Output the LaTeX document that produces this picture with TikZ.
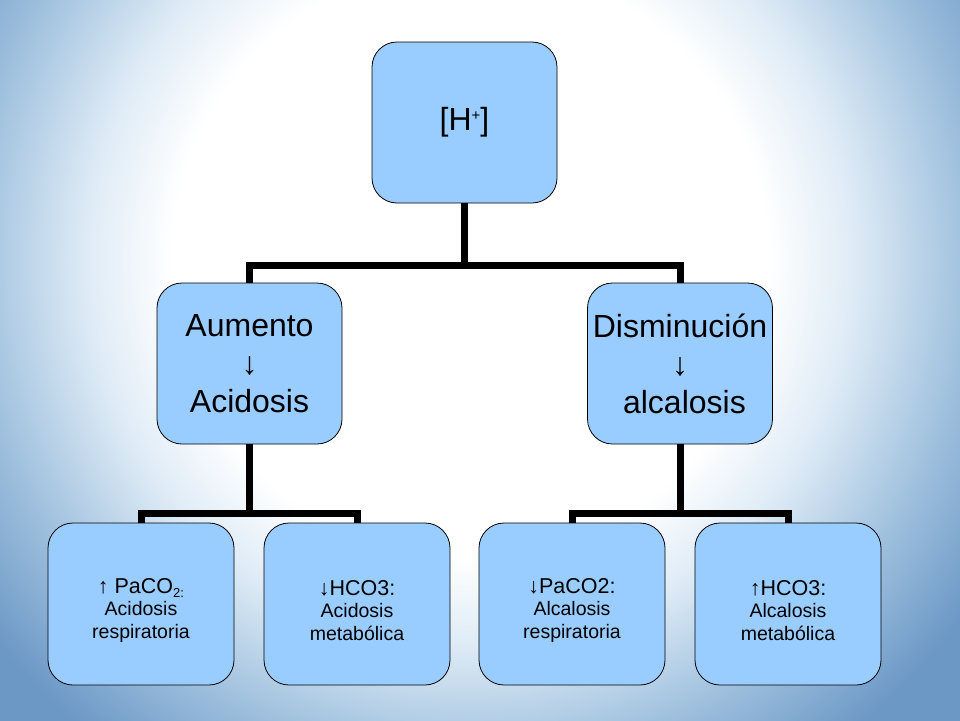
\documentclass[tikz,border=0pt]{standalone}
\usepackage{fontspec}
\setmainfont{Liberation Sans}
\definecolor{nodefill}{RGB}{153,204,255}
\definecolor{bgA}{RGB}{222,235,246}
\definecolor{bgB}{RGB}{160,193,222}
\definecolor{bgC}{RGB}{108,152,198}
\pgfdeclareradialshading{glow}{\pgfpoint{0bp}{0bp}}{color(0bp)=(white); color(12bp)=(white); color(15.5bp)=(bgA); color(20bp)=(bgB); color(24.5bp)=(bgC); color(50bp)=(bgC)}
\tikzset{
  box/.style={draw=black, line width=0.8pt, fill=nodefill, rounded corners=25pt,
    minimum width=185pt, minimum height=161pt, inner sep=0pt, align=center, text=black},
  bigtxt/.style={font=\fontsize{32}{38}\selectfont},
  smalltxt/.style={font=\fontsize{19.5}{22.5}\selectfont, minimum width=186pt, minimum height=162pt},
  link/.style={draw=black, line width=7pt, line join=miter}
}
\newcommand{\firstline}[1]{\rule{0pt}{28pt}{\fontsize{21.5}{22.5}\selectfont #1}}
\begin{document}
\begin{tikzpicture}[x=1pt,y=-1pt]
\useasboundingbox (0,0) rectangle (960,720);
\begin{scope}
  \clip (0,0) rectangle (960,720);
  \shade[shading=glow] (-150,-360) rectangle (1090,880);
\end{scope}

\node[box, bigtxt] (top) at (464.5,122.5) {[H\raisebox{10pt}{\fontsize{15}{15}\selectfont +}]};
\node[box, bigtxt] (aum) at (249.5,363.5) {Aumento\\↓\\Acidosis};
\node[box, bigtxt] (dis) at (680,363.5) {Disminución\\↓\\\hspace*{0.278em}alcalosis};

\node[box, smalltxt] (a1) at (141,604)
  {\firstline{↑ PaCO\raisebox{-4pt}{\fontsize{13}{13}\selectfont 2:}}\\Acidosis\\respiratoria};
\node[box, smalltxt] (a2) at (357,604)
  {\firstline{↓HCO3:}\\Acidosis\\metabólica};
\node[box, smalltxt] (d1) at (572,604)
  {\firstline{↓PaCO2:}\\Alcalosis\\respiratoria};
\node[box, smalltxt] (d2) at (788,604)
  {\firstline{↑HCO3:}\\Alcalosis\\metabólica};

\coordinate (j1) at (464.5,265);
\coordinate (j2) at (249.5,513);
\coordinate (j3) at (680,513);

\draw[link] (top.south) -- (j1);
\draw[link] (aum.north) -- (aum.north |- j1) -- (dis.north |- j1) -- (dis.north);

\draw[link] (aum.south) -- (j2);
\draw[link] (a1.north) -- (a1.north |- j2) -- (a2.north |- j2) -- (a2.north);

\draw[link] (dis.south) -- (j3);
\draw[link] (d1.north) -- (d1.north |- j3) -- (d2.north |- j3) -- (d2.north);
\end{tikzpicture}
\end{document}
